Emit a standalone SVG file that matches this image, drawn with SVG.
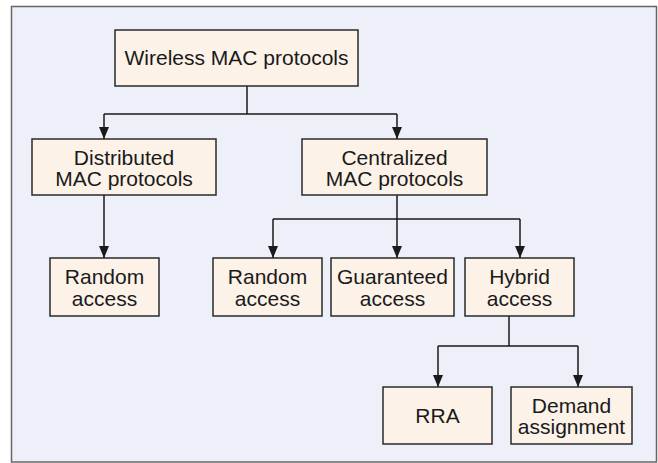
<svg xmlns="http://www.w3.org/2000/svg" width="658" height="463" viewBox="0 0 658 463">
<style>
.box{fill:#fcf2e8;stroke:#2a2a2a;stroke-width:1.5}
.t{font-family:"Liberation Sans",Arial,sans-serif;font-size:21px;fill:#1a1a1a;text-anchor:middle}
.c{fill:none;stroke:#1a1a1a;stroke-width:1.5}
</style>
<rect x="11.5" y="6.5" width="645" height="455.5" fill="#edf0f8" stroke="#666" stroke-width="1.5"/>
<g id="connectors">
<path class="c" d="M247,86 V114 M104,114 H397"/>
<path class="c" d="M104,114 V139" />
<path class="c" d="M397,114 V139" />
<path class="c" d="M104,195 V258"/>
<path class="c" d="M397,195 V258 M273,219 H520"/>
<path class="c" d="M273,219 V258"/>
<path class="c" d="M520,219 V258"/>
<path class="c" d="M509,316 V346 M438,346 H578"/>
<path class="c" d="M438,346 V387"/>
<path class="c" d="M578,346 V387"/>
<g fill="#1a1a1a">
<path d="M99,127 L109,127 L104,139 Z"/>
<path d="M392,127 L402,127 L397,139 Z"/>
<path d="M99,246 L109,246 L104,258 Z"/>
<path d="M268,246 L278,246 L273,258 Z"/>
<path d="M392,246 L402,246 L397,258 Z"/>
<path d="M515,246 L525,246 L520,258 Z"/>
<path d="M433,375 L443,375 L438,387 Z"/>
<path d="M573,375 L583,375 L578,387 Z"/>
</g>
</g>
<g id="wireless">
<rect class="box" x="115" y="30" width="243" height="56"/>
<text class="t" x="236.5" y="65">Wireless MAC protocols</text>
</g>
<g id="distributed">
<rect class="box" x="32" y="139" width="184" height="56"/>
<text class="t" x="124" y="165">Distributed</text>
<text class="t" x="124" y="186">MAC protocols</text>
</g>
<g id="centralized">
<rect class="box" x="302" y="139" width="185" height="56"/>
<text class="t" x="394.5" y="165">Centralized</text>
<text class="t" x="394.5" y="186">MAC protocols</text>
</g>
<g id="random1">
<rect class="box" x="50" y="258" width="109" height="58"/>
<text class="t" x="104.5" y="284">Random</text>
<text class="t" x="104.5" y="306">access</text>
</g>
<g id="random2">
<rect class="box" x="213" y="258" width="109" height="58"/>
<text class="t" x="267.5" y="284">Random</text>
<text class="t" x="267.5" y="306">access</text>
</g>
<g id="guaranteed">
<rect class="box" x="331" y="258" width="123" height="58"/>
<text class="t" x="392.5" y="284">Guaranteed</text>
<text class="t" x="392.5" y="306">access</text>
</g>
<g id="hybrid">
<rect class="box" x="465" y="258" width="109" height="58"/>
<text class="t" x="519.5" y="284">Hybrid</text>
<text class="t" x="519.5" y="306">access</text>
</g>
<g id="rra">
<rect class="box" x="383" y="387" width="109" height="57"/>
<text class="t" x="437.5" y="423">RRA</text>
</g>
<g id="demand">
<rect class="box" x="511" y="387" width="121" height="57"/>
<text class="t" x="571.5" y="413">Demand</text>
<text class="t" x="571.5" y="434">assignment</text>
</g>
</svg>
